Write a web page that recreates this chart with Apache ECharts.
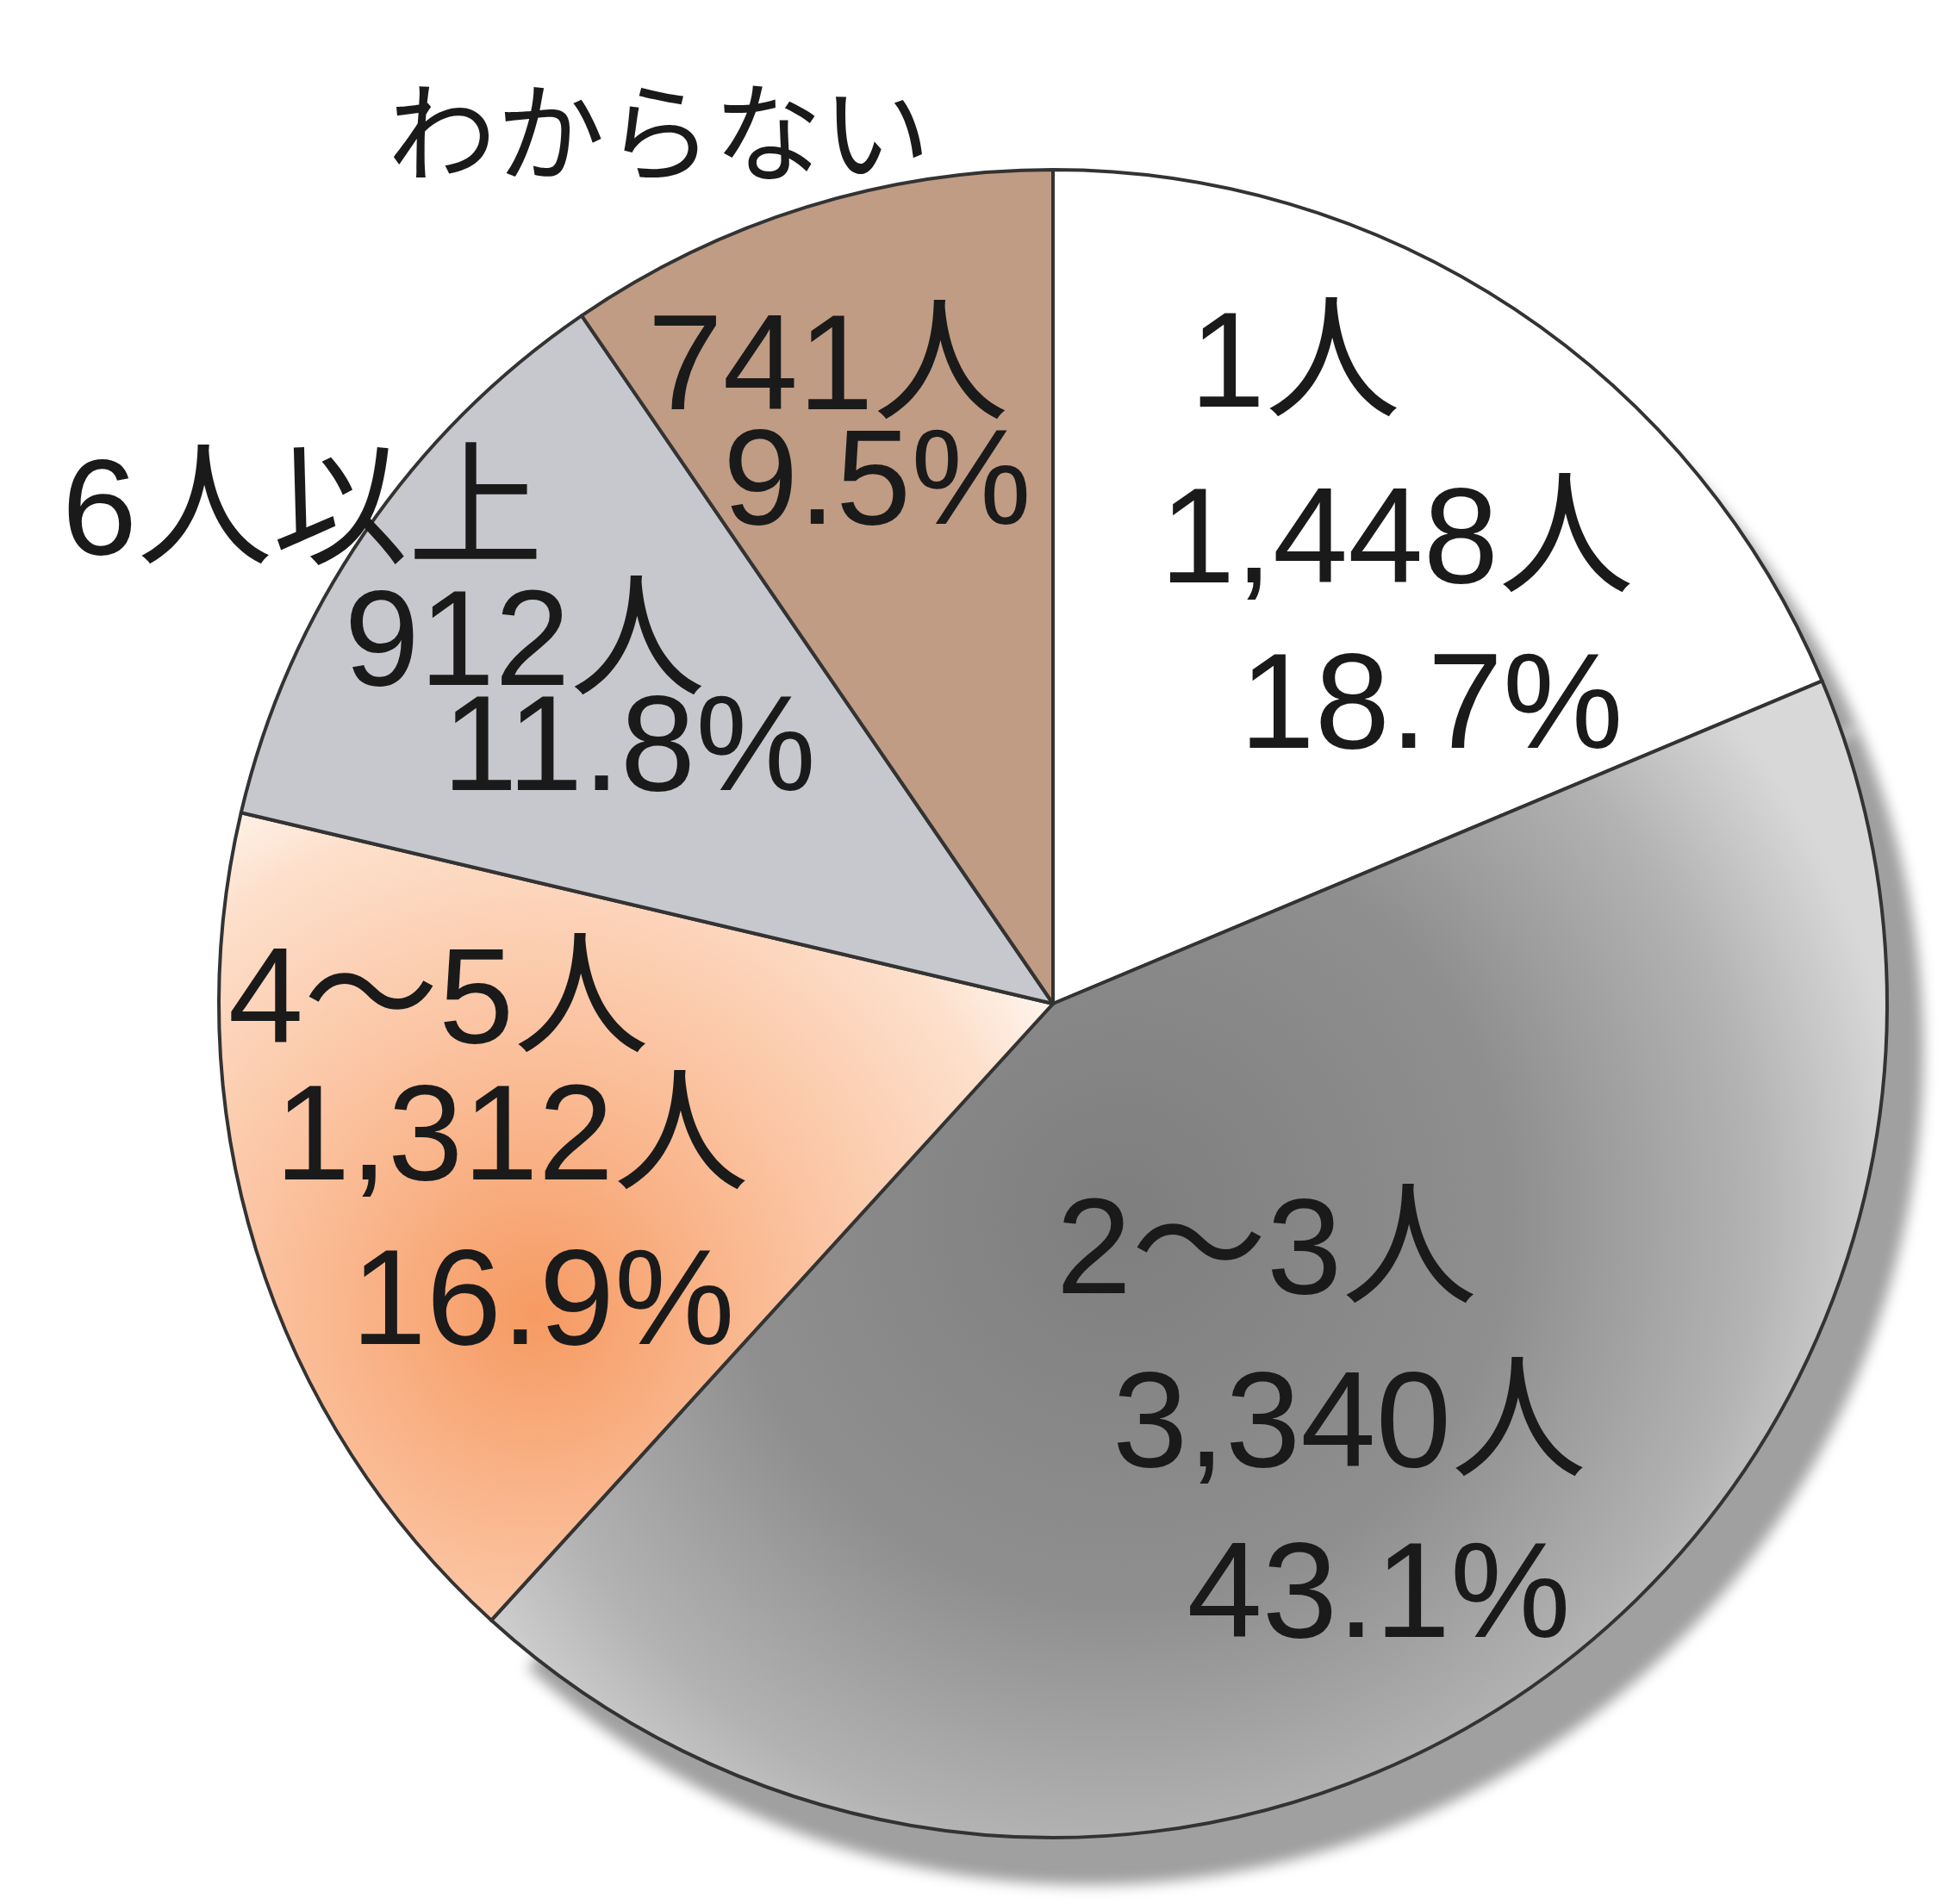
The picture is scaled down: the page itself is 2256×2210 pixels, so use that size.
<!DOCTYPE html>
<html><head><meta charset="utf-8">
<script src="https://cdn.jsdelivr.net/npm/echarts@6/dist/echarts.min.js"></script>
<style>html,body{margin:0;padding:0;background:#fff}#c{width:2256px;height:2210px}</style>
</head><body><div id="c"></div>
<script>
const categories = ['1人', '2〜3人', '4〜5人', '6人以上', 'わからない'];
const counts = [1448, 3340, 1312, 912, 741];
const percents = [18.7, 43.1, 16.9, 11.8, 9.5];

const chart = echarts.init(document.getElementById('c'), null, {renderer: 'canvas'});
const CENTER = [1222, 1165];
const RADIUS = 968;
const FONT = "'Liberation Sans', 'Noto Sans CJK JP', sans-serif";

// anchor (center) of each text line per slice: [name, count, percent]
const labelAnchors = [
  [[1503, 429], [1621, 633], [1661, 825]],
  [[1470, 1458], [1566, 1659], [1600, 1857]],
  [[509, 1167], [594, 1326], [630, 1517]],
  [[351, 600], [609, 752], [730, 874]],
  [[765, 166], [961, 432], [1018, 565]]
];

const fills = [
  '#ffffff',
  {type: 'radial', x: 0.45, y: 0.46, r: 0.68, colorStops: [
    {offset: 0, color: '#7e7e7e'}, {offset: 0.5, color: '#8f8f8f'},
    {offset: 0.8, color: '#b2b2b2'}, {offset: 1, color: '#d8d8d8'}]},
  {type: 'radial', x: 0.38, y: 0.62, r: 0.8, colorStops: [
    {offset: 0, color: '#f69a62'}, {offset: 0.45, color: '#fbc4a2'},
    {offset: 0.78, color: '#fde0cc'}, {offset: 1, color: '#ffffff'}]},
  '#c7c8cd',
  '#c09c84'
];

const mainData = categories.map((n, i) => ({
  name: n, value: counts[i],
  itemStyle: {color: fills[i], borderColor: '#333333', borderWidth: 4}
}));

// rim (3D edge) drawn under the pie on its right-hand side
const rimData = categories.map((n, i) => ({
  name: n, value: counts[i],
  itemStyle: i <= 1
    ? {color: '#a5a5a5', shadowBlur: 16, shadowColor: 'rgba(160,160,160,1)', shadowOffsetX: 42, shadowOffsetY: 55}
    : {color: 'rgba(0,0,0,0)'}
}));

const lineText = [
  i => categories[i],
  i => counts[i].toLocaleString('en-US') + '人',
  i => percents[i].toFixed(1) + '%'
];

function textSeries(k) {
  return {
    type: 'pie', center: CENTER, radius: RADIUS, silent: true, z: 5,
    animation: false, avoidLabelOverlap: false,
    data: categories.map((n, i) => {
      const d = {name: n, value: counts[i]};
      if (k === 0 && i === 4) d.label = {fontSize: 126};
      return d;
    }),
    itemStyle: {color: 'rgba(0,0,0,0)', borderWidth: 0},
    label: {show: true, position: 'inside', formatter: p => lineText[k](p.dataIndex),
      color: '#1a1a1a', fontSize: 157, fontFamily: FONT, lineHeight: 170},
    labelLine: {show: false},
    labelLayout: p => ({x: labelAnchors[p.dataIndex][k][0], y: labelAnchors[p.dataIndex][k][1],
      align: 'center', verticalAlign: 'middle'}),
    emphasis: {disabled: true}
  };
}

chart.setOption({
  backgroundColor: '#ffffff',
  animation: false,
  series: [
    {type: 'pie', center: CENTER, radius: RADIUS, z: 1, silent: true,
     label: {show: false}, labelLine: {show: false}, emphasis: {disabled: true}, data: rimData},
    {type: 'pie', center: CENTER, radius: RADIUS, z: 2, startAngle: 90, clockwise: true,
     silent: true, label: {show: false}, labelLine: {show: false},
     emphasis: {disabled: true}, data: mainData},
    textSeries(0), textSeries(1), textSeries(2)
  ]
});
</script></body></html>
